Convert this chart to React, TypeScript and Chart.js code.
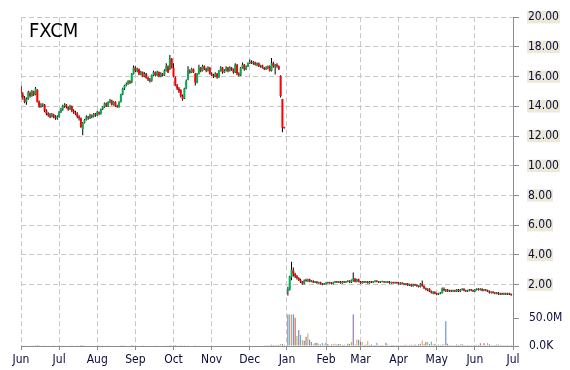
import React, { useEffect, useRef } from 'react';
import { Chart, registerables } from 'chart.js';

Chart.register(...registerables);

const titleText = 'FXCM';
const monthLabels = ['Jun', 'Jul', 'Aug', 'Sep', 'Oct', 'Nov', 'Dec', 'Jan', 'Feb', 'Mar', 'Apr', 'May', 'Jun', 'Jul'];
const monthStarts = [0, 21, 42, 63, 84, 105, 126, 146.5, 168, 187, 208, 229, 250, 271];
const priceTicks = [2, 4, 6, 8, 10, 12, 14, 16, 18, 20];
const volumeTicks = [0, 50];

const opens: (number | null)[] = [
  15.30, 14.80, 14.55, 14.30, 14.50, 14.90, 14.70, 15.00, 14.80, 15.10,
  14.30, 14.00, 14.05, 14.10, 13.70, 13.50, 13.40, 13.30, 13.45, 13.30,
  13.20, 13.30, 13.60, 13.80, 14.00, 14.10, 13.95, 13.80, 14.00, 13.70,
  13.60, 13.50, 13.30, 13.20, 12.45, 12.90, 13.10, 13.30, 13.20, 13.40,
  13.30, 13.50, 13.40, 13.60, 13.50, 13.80, 13.95, 14.20, 14.00, 14.30,
  14.40, 14.10, 14.30, 14.00, 13.95, 14.30, 14.80, 15.20, 15.40, 15.50,
  15.70, 15.60, 16.20, 16.60, 16.40, 16.50, 16.20, 16.30, 16.00, 16.20,
  15.90, 15.80, 15.70, 16.10, 16.30, 16.10, 16.30, 16.00, 16.20, 16.10,
  16.40, 16.70, 16.50, 17.20, 16.60, 15.90, 15.40, 15.20, 15.10, 14.70,
  14.55, 15.20, 15.80, 16.40, 16.30, 16.50, 16.20, 15.60, 16.20, 16.60,
  16.40, 16.70, 16.50, 16.40, 16.60, 16.20, 16.10, 16.00, 16.20, 15.95,
  16.40, 16.60, 16.30, 16.40, 16.60, 16.40, 16.60, 16.50, 16.30, 16.80,
  16.20, 16.10, 16.60, 16.80, 16.50, 16.70, 16.90, 17.00, 16.90, 16.95,
  16.80, 16.90, 16.70, 16.75, 16.60, 16.50, 16.60, 16.70, 16.40, 16.90,
  16.70, 16.80, 16.70, 16.05, 14.50, 12.60, null, 1.60, 1.65, 2.50,
  2.95, 2.70, 2.55, 2.45, 2.30, 2.20, 2.05, 2.30, 2.25, 2.35,
  2.20, 2.25, 2.15, 2.20, 2.10, 2.15, 2.05, 2.00, 2.05, 2.10,
  2.15, 2.10, 2.05, 2.15, 2.20, 2.15, 2.20, 2.10, 2.20, 2.15,
  2.20, 2.25, 2.15, 2.30, 2.40, 2.20, 2.35, 2.20, 2.10, 2.20,
  2.15, 2.20, 2.10, 2.20, 2.15, 2.20, 2.25, 2.20, 2.15, 2.20,
  2.20, 2.15, 2.15, 2.20, 2.10, 2.15, 2.10, 2.15, 2.10, 2.05,
  2.10, 2.05, 2.00, 2.05, 1.95, 2.00, 1.90, 2.00, 1.95, 1.90,
  1.85, 2.05, 1.90, 1.75, 1.65, 1.70, 1.55, 1.45, 1.50, 1.40,
  1.35, 1.40, 1.45, 1.70, 1.60, 1.65, 1.55, 1.60, 1.55, 1.60,
  1.55, 1.65, 1.55, 1.65, 1.70, 1.60, 1.55, 1.60, 1.65, 1.60,
  1.55, 1.65, 1.70, 1.65, 1.70, 1.60, 1.65, 1.60, 1.55, 1.45,
  1.50, 1.45, 1.40, 1.45, 1.35, 1.40, 1.35, 1.40, 1.35, 1.40,
  1.35,
];

const highs: (number | null)[] = [
  15.40, 14.95, 14.70, 14.60, 15.05, 15.00, 15.10, 15.05, 15.30, 15.15,
  14.40, 14.20, 14.20, 14.15, 13.80, 13.60, 13.55, 13.55, 13.50, 13.40,
  13.40, 13.70, 13.90, 14.10, 14.20, 14.15, 14.00, 14.10, 14.05, 13.80,
  13.70, 13.60, 13.40, 13.25, 12.95, 13.15, 13.40, 13.35, 13.50, 13.45,
  13.55, 13.55, 13.70, 13.65, 13.85, 14.00, 14.25, 14.25, 14.35, 14.50,
  14.45, 14.35, 14.35, 14.10, 14.35, 14.85, 15.25, 15.45, 15.60, 15.75,
  15.75, 16.25, 16.75, 16.70, 16.60, 16.55, 16.40, 16.35, 16.30, 16.25,
  16.00, 15.90, 16.15, 16.40, 16.35, 16.40, 16.35, 16.30, 16.25, 16.50,
  16.90, 16.75, 17.45, 17.25, 16.90, 16.00, 15.50, 15.30, 15.15, 14.80,
  15.25, 15.80, 16.70, 16.50, 16.60, 16.55, 16.25, 16.25, 16.80, 16.65,
  16.80, 16.75, 16.60, 16.70, 16.65, 16.30, 16.20, 16.30, 16.25, 16.45,
  16.70, 16.65, 16.50, 16.70, 16.65, 16.70, 16.65, 16.55, 16.90, 16.85,
  16.30, 16.65, 16.95, 16.85, 16.75, 16.95, 17.15, 17.10, 17.05, 17.00,
  16.95, 16.95, 16.80, 16.80, 16.65, 16.70, 16.75, 16.75, 17.25, 17.00,
  16.85, 16.90, 16.75, 16.10, 14.50, 12.62, null, 1.85, 2.60, 3.53,
  3.15, 2.80, 2.65, 2.50, 2.40, 2.25, 2.35, 2.40, 2.40, 2.40,
  2.30, 2.30, 2.25, 2.25, 2.20, 2.20, 2.10, 2.10, 2.15, 2.20,
  2.20, 2.15, 2.20, 2.25, 2.25, 2.25, 2.25, 2.25, 2.25, 2.25,
  2.30, 2.30, 2.35, 2.82, 2.45, 2.40, 2.40, 2.25, 2.25, 2.25,
  2.25, 2.25, 2.25, 2.25, 2.25, 2.30, 2.30, 2.25, 2.25, 2.25,
  2.25, 2.20, 2.25, 2.25, 2.20, 2.20, 2.20, 2.20, 2.15, 2.15,
  2.15, 2.10, 2.10, 2.10, 2.05, 2.05, 2.05, 2.05, 2.00, 1.95,
  2.10, 2.27, 1.95, 1.80, 1.75, 1.75, 1.60, 1.55, 1.55, 1.45,
  1.45, 1.50, 1.80, 1.80, 1.70, 1.70, 1.65, 1.65, 1.65, 1.65,
  1.70, 1.70, 1.70, 1.75, 1.75, 1.65, 1.65, 1.70, 1.70, 1.65,
  1.70, 1.75, 1.75, 1.75, 1.75, 1.70, 1.70, 1.65, 1.60, 1.55,
  1.55, 1.50, 1.50, 1.50, 1.45, 1.45, 1.45, 1.45, 1.45, 1.45,
  1.40,
];

const lows: (number | null)[] = [
  14.60, 14.45, 14.20, 14.10, 14.45, 14.60, 14.65, 14.70, 14.75, 14.25,
  13.90, 13.90, 13.95, 13.60, 13.40, 13.30, 13.20, 13.25, 13.20, 13.10,
  13.10, 13.25, 13.55, 13.70, 13.90, 13.85, 13.70, 13.75, 13.60, 13.50,
  13.40, 13.20, 13.05, 12.55, 12.05, 12.85, 13.05, 13.10, 13.15, 13.20,
  13.25, 13.30, 13.35, 13.40, 13.45, 13.75, 13.90, 13.95, 13.95, 14.20,
  14.05, 14.05, 13.95, 13.90, 13.90, 14.25, 14.75, 15.10, 15.35, 15.45,
  15.50, 15.55, 16.15, 16.30, 16.30, 16.10, 16.10, 15.95, 15.95, 15.85,
  15.70, 15.60, 15.65, 16.05, 16.00, 16.05, 15.95, 15.95, 16.00, 16.05,
  16.35, 16.25, 16.45, 16.55, 15.95, 15.35, 15.10, 14.90, 14.60, 14.38,
  14.50, 15.15, 15.75, 16.20, 16.25, 16.25, 15.40, 15.55, 16.15, 16.30,
  16.35, 16.45, 16.30, 16.35, 16.15, 16.05, 15.90, 15.95, 15.85, 15.90,
  16.35, 16.20, 16.25, 16.35, 16.30, 16.35, 16.40, 16.20, 16.25, 16.10,
  16.00, 16.05, 16.55, 16.40, 16.45, 16.65, 16.85, 16.85, 16.80, 16.75,
  16.70, 16.65, 16.60, 16.55, 16.45, 16.45, 16.50, 16.35, 16.35, 16.60,
  16.15, 16.60, 16.45, 14.60, 12.25, 12.50, null, 1.27, 1.60, 2.30,
  2.55, 2.45, 2.35, 2.25, 2.10, 2.00, 2.00, 2.20, 2.20, 2.15,
  2.15, 2.10, 2.10, 2.05, 2.05, 2.00, 1.95, 1.97, 2.00, 2.05,
  2.05, 2.00, 2.00, 2.10, 2.10, 2.10, 2.05, 2.05, 2.10, 2.10,
  2.15, 2.10, 2.10, 2.20, 2.15, 2.15, 2.15, 2.05, 2.05, 2.10,
  2.10, 2.05, 2.05, 2.10, 2.10, 2.15, 2.15, 2.10, 2.10, 2.15,
  2.10, 2.10, 2.10, 2.05, 2.05, 2.05, 2.05, 2.05, 2.00, 2.00,
  2.00, 1.95, 1.95, 1.90, 1.90, 1.85, 1.85, 1.90, 1.85, 1.80,
  1.80, 1.85, 1.70, 1.60, 1.55, 1.50, 1.40, 1.35, 1.35, 1.28,
  1.30, 1.35, 1.40, 1.55, 1.50, 1.50, 1.50, 1.50, 1.50, 1.50,
  1.50, 1.50, 1.50, 1.60, 1.55, 1.50, 1.50, 1.55, 1.55, 1.50,
  1.50, 1.60, 1.60, 1.60, 1.55, 1.55, 1.55, 1.50, 1.40, 1.40,
  1.40, 1.35, 1.35, 1.30, 1.30, 1.30, 1.30, 1.30, 1.30, 1.30,
  1.25,
];

const closes: (number | null)[] = [
  14.85, 14.60, 14.30, 14.50, 14.95, 14.70, 15.00, 14.80, 15.20, 14.30,
  14.00, 14.05, 14.10, 13.70, 13.50, 13.40, 13.30, 13.45, 13.30, 13.20,
  13.30, 13.60, 13.80, 14.00, 14.10, 13.95, 13.80, 14.00, 13.70, 13.60,
  13.50, 13.30, 13.20, 12.60, 12.90, 13.10, 13.30, 13.20, 13.40, 13.30,
  13.50, 13.40, 13.60, 13.50, 13.80, 13.95, 14.20, 14.00, 14.30, 14.40,
  14.10, 14.30, 14.00, 13.95, 14.30, 14.80, 15.20, 15.40, 15.50, 15.70,
  15.60, 16.20, 16.60, 16.40, 16.50, 16.20, 16.30, 16.00, 16.20, 15.90,
  15.80, 15.70, 16.10, 16.30, 16.10, 16.30, 16.00, 16.20, 16.10, 16.40,
  16.70, 16.30, 17.20, 16.60, 16.00, 15.40, 15.20, 15.00, 14.70, 14.50,
  15.20, 15.70, 16.40, 16.30, 16.50, 16.30, 15.60, 16.20, 16.60, 16.40,
  16.70, 16.50, 16.40, 16.60, 16.20, 16.10, 16.00, 16.20, 15.95, 16.40,
  16.60, 16.30, 16.40, 16.60, 16.40, 16.60, 16.50, 16.30, 16.80, 16.20,
  16.10, 16.60, 16.80, 16.50, 16.70, 16.90, 17.00, 16.90, 16.95, 16.80,
  16.90, 16.70, 16.75, 16.60, 16.50, 16.60, 16.70, 16.40, 16.90, 16.70,
  16.80, 16.70, 16.50, 14.70, 12.55, 12.52, null, 1.70, 2.55, 3.00,
  2.70, 2.55, 2.45, 2.30, 2.20, 2.05, 2.30, 2.25, 2.35, 2.20,
  2.25, 2.15, 2.20, 2.10, 2.15, 2.05, 2.00, 2.05, 2.10, 2.15,
  2.10, 2.05, 2.15, 2.20, 2.15, 2.20, 2.10, 2.20, 2.15, 2.20,
  2.25, 2.15, 2.30, 2.40, 2.20, 2.35, 2.20, 2.10, 2.20, 2.15,
  2.20, 2.10, 2.20, 2.15, 2.20, 2.25, 2.20, 2.15, 2.20, 2.20,
  2.15, 2.15, 2.20, 2.10, 2.15, 2.10, 2.15, 2.10, 2.05, 2.10,
  2.05, 2.00, 2.05, 1.95, 2.00, 1.90, 2.00, 1.95, 1.90, 1.85,
  2.05, 1.90, 1.75, 1.65, 1.70, 1.55, 1.45, 1.50, 1.40, 1.35,
  1.40, 1.45, 1.75, 1.60, 1.65, 1.55, 1.60, 1.55, 1.60, 1.55,
  1.65, 1.55, 1.65, 1.70, 1.60, 1.55, 1.60, 1.65, 1.60, 1.55,
  1.65, 1.70, 1.65, 1.70, 1.60, 1.65, 1.60, 1.55, 1.45, 1.50,
  1.45, 1.40, 1.45, 1.35, 1.40, 1.35, 1.40, 1.35, 1.40, 1.35,
  1.30,
];

// volume in millions of shares
const volumes: (number | null)[] = [
  1.2, 0.8, 1.5, 0.9, 1.1, 0.7, 1.3, 0.9, 1.6, 1.8,
  1.2, 0.8, 0.9, 1.4, 1.0, 0.7, 1.1, 0.8, 1.3, 0.9,
  0.8, 1.2, 1.0, 1.4, 0.9, 0.7, 1.1, 0.8, 1.2, 0.9,
  1.0, 1.3, 1.1, 1.6, 1.9, 1.2, 0.9, 0.8, 1.0, 0.7,
  0.9, 1.1, 0.8, 1.2, 1.0, 1.3, 1.1, 0.9, 1.2, 1.0,
  0.8, 1.1, 0.9, 0.7, 1.0, 1.4, 1.5, 1.2, 1.1, 0.9,
  1.0, 1.6, 1.4, 1.1, 0.9, 1.0, 0.8, 1.2, 0.9, 1.0,
  1.1, 0.8, 1.0, 0.9, 1.2, 0.8, 1.0, 0.9, 0.7, 1.1,
  1.2, 0.9, 1.8, 1.3, 1.5, 1.7, 1.2, 1.0, 1.6, 1.4,
  1.3, 1.1, 1.2, 0.9, 0.8, 1.0, 1.3, 1.1, 0.9, 0.8,
  1.0, 0.8, 0.9, 1.1, 0.7, 0.9, 0.8, 1.0, 0.9, 1.1,
  0.8, 0.9, 0.7, 1.0, 0.8, 0.9, 1.1, 0.8, 1.0, 1.2,
  0.9, 1.1, 0.8, 1.0, 0.9, 1.2, 1.0, 0.8, 1.1, 0.9,
  1.0, 0.8, 0.9, 1.1, 1.2, 1.5, 1.3, 1.6, 2.2, 1.8,
  2.0, 1.6, 2.4, 3.6, 3.8, 2.2, null, 70, 95, 80,
  65, 51, 17.9, 28.6, 19.6, 10.7, 9.5, 16.7, 22.6, 11.3,
  7.0, 3.0, 5.2, 6.0, 4.2, 2.5, 5.4, 3.0, 6.3, 3.6,
  2.0, 2.5, 3.0, 4.0, 2.5, 3.5, 3.6, 2.0, 2.5, 2.0,
  4.0, 3.6, 7.0, 80, 2.5, 12.0, 11.0, 7.0, 7.0, 2.0,
  2.5, 9.0, 2.0, 2.5, 1.5, 2.0, 6.0, 2.0, 1.5, 2.0,
  1.5, 6.0, 2.5, 1.5, 2.0, 2.0, 1.5, 2.0, 1.5, 2.0,
  1.5, 2.0, 2.5, 1.5, 2.0, 3.0, 2.0, 2.5, 2.0, 3.0,
  4.0, 10.0, 3.0, 7.0, 7.0, 3.0, 8.0, 3.0, 4.0, 2.0,
  3.0, 2.0, 2.5, 3.0, 44.6, 4.0, 2.0, 2.0, 1.5, 2.0,
  2.5, 2.0, 3.0, 3.0, 2.0, 1.5, 2.0, 1.5, 2.0, 1.5,
  2.0, 2.5, 2.0, 5.0, 2.0, 5.0, 2.0, 6.0, 3.0, 2.0,
  1.5, 2.0, 2.5, 3.0, 2.0, 1.5, 2.0, 1.5, 2.0, 1.5,
  2.0,
];

const UP = '#00B050';
const DOWN = '#FF0000';
const VOL_COLORS = ['#4F81BD', '#C0504D', '#9BBB59', '#8064A2', '#4BACC6', '#F79646'];
const FONT_FAMILY = '"DejaVu Sans Condensed", "DejaVu Sans", sans-serif';
const LABEL_COLOR = '#0a0a3c';
const GRID_COLOR = '#c8c8c8';
const AXIS_COLOR = '#8c8c8c';

export default function App() {
  const ref = useRef<HTMLCanvasElement>(null);

  useEffect(() => {
    const canvas = ref.current;
    if (!canvas) return;

    const idx = closes.map((_, i) => i).filter((i) => closes[i] != null);
    const bodies = idx.map((i) => ({ x: i, y: [opens[i] as number, closes[i] as number] }));
    const bodyColors = idx.map((i) => ((closes[i] as number) >= (opens[i] as number) ? UP : DOWN));
    const wicks = idx.map((i) => ({ x: i, y: [lows[i] as number, highs[i] as number] }));
    const vIdx = volumes.map((_, i) => i).filter((i) => volumes[i] != null);
    const vols = vIdx.map((i) => ({ x: i, y: volumes[i] as number }));
    const volColors = vIdx.map((i) => VOL_COLORS[i % VOL_COLORS.length]);

    const VOL_INDEX = 2;

    const overlay = {
      id: 'overlay',
      beforeDatasetDraw(chart: any, args: any) {
        if (args.index === VOL_INDEX) {
          const s = chart.scales.yv;
          const ctx = chart.ctx;
          ctx.save();
          ctx.beginPath();
          ctx.rect(chart.chartArea.left, s.top, chart.chartArea.right - chart.chartArea.left, s.bottom - s.top);
          ctx.clip();
        }
      },
      afterDatasetDraw(chart: any, args: any) {
        if (args.index === VOL_INDEX) chart.ctx.restore();
      },
      afterDraw(chart: any) {
        const ctx = chart.ctx;
        ctx.save();
        ctx.font = '20px ' + FONT_FAMILY;
        ctx.fillStyle = '#000000';
        ctx.textBaseline = 'alphabetic';
        ctx.textAlign = 'left';
        ctx.fillText(titleText, 29, 37);
        ctx.restore();
      },
    };

    const tickFont = { family: FONT_FAMILY, size: 12 };

    const chart = new Chart(canvas, {
      type: 'bar',
      data: {
        datasets: [
          {
            type: 'bar',
            label: 'body',
            data: bodies as any,
            backgroundColor: bodyColors,
            barThickness: 2,
            minBarLength: 1,
            grouped: false,
            inflateAmount: 0,
            xAxisID: 'x',
            yAxisID: 'y',
            order: 1,
          } as any,
          {
            type: 'bar',
            label: 'wick',
            data: wicks as any,
            backgroundColor: '#000000',
            barThickness: 1,
            minBarLength: 1,
            grouped: false,
            inflateAmount: 0,
            xAxisID: 'x',
            yAxisID: 'y',
            order: 2,
          } as any,
          {
            type: 'bar',
            label: 'volume',
            data: vols as any,
            backgroundColor: volColors,
            barThickness: 1,
            grouped: false,
            inflateAmount: 0,
            xAxisID: 'x',
            yAxisID: 'yv',
            order: 3,
          } as any,
        ],
      },
      options: {
        responsive: false,
        maintainAspectRatio: false,
        devicePixelRatio: 1,
        animation: false,
        events: [],
        layout: { padding: { left: 21, top: 14, right: 0, bottom: 0 } },
        plugins: { legend: { display: false }, tooltip: { enabled: false }, title: { display: false } },
        scales: {
          x: {
            type: 'linear',
            min: 0,
            max: 271,
            offset: false,
            afterBuildTicks: (s: any) => {
              s.ticks = monthStarts.map((v) => ({ value: v }));
            },
            afterFit: (s: any) => {
              s.height = 24;
            },
            grid: {
              offset: false,
              color: GRID_COLOR,
              lineWidth: 1,
              drawTicks: true,
              tickLength: 4,
              tickColor: AXIS_COLOR,
              tickBorderDash: [],
            },
            border: { display: true, color: AXIS_COLOR, width: 1, dash: [5, 3] },
            ticks: {
              color: LABEL_COLOR,
              font: tickFont,
              padding: 3,
              maxRotation: 0,
              autoSkip: false,
              callback: (v: any) => {
                const k = monthStarts.indexOf(Number(v));
                return k >= 0 ? monthLabels[k] : '';
              },
            },
          },
          y: {
            type: 'linear',
            position: 'right',
            stack: 'v',
            stackWeight: 300,
            min: 0,
            max: 20,
            afterBuildTicks: (s: any) => {
              s.ticks = priceTicks.map((v) => ({ value: v }));
            },
            afterFit: (s: any) => {
              s.width = 57;
            },
            grid: {
              color: GRID_COLOR,
              lineWidth: 1,
              tickLength: 6,
              tickColor: AXIS_COLOR,
              tickBorderDash: [],
            },
            border: { display: true, color: AXIS_COLOR, width: 1, dash: [5, 3] },
            ticks: {
              color: LABEL_COLOR,
              font: tickFont,
              padding: 9,
              autoSkip: false,
              showLabelBackdrop: true,
              backdropColor: '#ECE9D8',
              backdropPadding: { top: -1, bottom: -1, left: 1, right: 1 },
              callback: (v: any) => Number(v).toFixed(2),
            },
          },
          yv: {
            type: 'linear',
            position: 'right',
            stack: 'v',
            stackWeight: 32,
            min: 0,
            max: 57,
            afterBuildTicks: (s: any) => {
              s.ticks = volumeTicks.map((v) => ({ value: v }));
            },
            afterFit: (s: any) => {
              s.width = 57;
            },
            grid: {
              drawOnChartArea: false,
              tickLength: 6,
              tickColor: AXIS_COLOR,
              tickBorderDash: [],
            },
            border: { display: true, color: AXIS_COLOR, width: 1 },
            ticks: {
              color: LABEL_COLOR,
              font: tickFont,
              padding: 10,
              autoSkip: false,
              callback: (v: any) => (Number(v) === 0 ? '0.0K' : Number(v).toFixed(1) + 'M'),
            },
          },
        } as any,
      },
      plugins: [overlay],
    } as any);

    return () => chart.destroy();
  }, []);

  return (
    <div style={{ position: 'absolute', left: 0, top: 0, width: 570, height: 370, background: '#ffffff' }}>
      <canvas ref={ref} width={570} height={370} style={{ display: 'block', width: 570, height: 370 }} />
    </div>
  );
}
